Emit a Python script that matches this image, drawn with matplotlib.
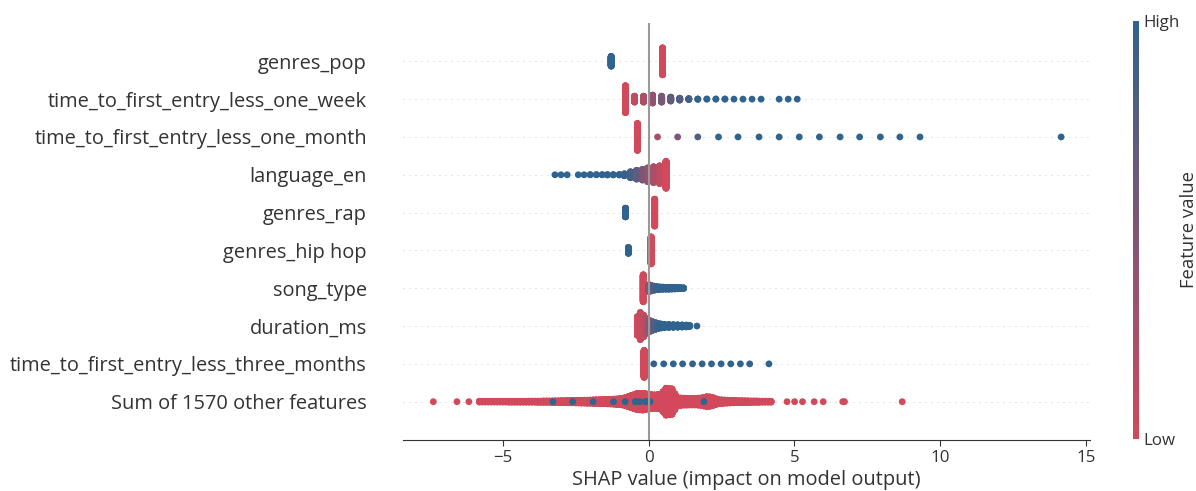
import numpy as np
import matplotlib
matplotlib.use('Agg')
import matplotlib.pyplot as plt
from matplotlib.colors import LinearSegmentedColormap
from matplotlib.cm import ScalarMappable

plt.rcParams['font.family'] = ['Open Sans', 'DejaVu Sans']

# feature names, top row first
features = [
    'genres_pop',
    'time_to_first_entry_less_one_week',
    'time_to_first_entry_less_one_month',
    'language_en',
    'genres_rap',
    'genres_hip hop',
    'song_type',
    'duration_ms',
    'time_to_first_entry_less_three_months',
    'Sum of 1570 other features',
]

# per feature: shap value of each group, number of samples in it, scaled feature value (0 low, 1 high)
pop_shap = [-1.28, 0.48]
pop_n = [74, 201]
pop_fv = [1.0, 0.0]

week_shap = [-0.79, -0.48, -0.17, 0.14, 0.45, 0.76, 1.07, 1.38, 1.69, 2.0, 2.31, 2.62,
             2.93, 3.24, 3.55, 3.86, 4.48, 4.79, 5.1]
week_n = [201, 45, 45, 60, 45, 30, 15, 8, 3, 2, 2, 2, 1, 1, 1, 1, 1, 1, 1]
week_fv = [0.0, 0.1, 0.25, 0.4, 0.55, 0.7, 0.8, 0.9, 1.0, 1.0, 1.0, 1.0, 1.0, 1.0,
           1.0, 1.0, 1.0, 1.0, 1.0]

month_shap = [-0.38, 0.31, 1.0, 1.69, 2.4, 3.07, 3.79, 4.48, 5.17, 5.86, 6.57, 7.24,
              7.95, 8.62, 9.31, 14.15]
month_n = [201, 1, 1, 1, 1, 1, 1, 1, 1, 1, 1, 1, 1, 1, 1, 1]
month_fv = [0.0, 0.25, 0.55, 0.8, 1.0, 1.0, 1.0, 1.0, 1.0, 1.0, 1.0, 1.0, 1.0, 1.0,
            1.0, 1.0]

lang_shap = [-3.21, -3.0, -2.79, -2.41, -2.21, -2.0, -1.79, -1.59, -1.41, -1.21, -1.0,
             -0.83, -0.62, -0.41, -0.21, -0.03, 0.17, 0.38, 0.6]
lang_n = [1, 1, 1, 1, 1, 2, 2, 2, 3, 3, 4, 15, 45, 66, 80, 103, 118, 132, 201]
lang_fv = [1.0, 1.0, 1.0, 1.0, 1.0, 1.0, 1.0, 1.0, 1.0, 1.0, 1.0, 0.95, 0.85, 0.7,
           0.55, 0.4, 0.25, 0.12, 0.0]

rap_shap = [-0.79, 0.21]
rap_n = [66, 201]
rap_fv = [1.0, 0.0]

hiphop_shap = [-0.69, 0.09]
hiphop_n = [45, 201]
hiphop_fv = [1.0, 0.0]

song_shap = [-0.18, 0.02, 0.1, 0.2, 0.3, 0.4, 0.5, 0.6, 0.7, 0.8, 0.9, 1.0, 1.1, 1.2]
song_n = [201, 52, 40, 30, 22, 18, 16, 15, 15, 14, 12, 10, 8, 6]
song_fv = [0.0, 0.5, 0.7, 0.85, 0.95, 1.0, 1.0, 1.0, 1.0, 1.0, 1.0, 1.0, 1.0, 1.0]

dur_shap = [-0.38, -0.28, -0.17, -0.07, 0.03, 0.13, 0.23, 0.33, 0.43, 0.55, 0.7, 0.85,
            1.0, 1.15, 1.3, 1.41, 1.66]
dur_n = [140, 201, 160, 110, 85, 66, 52, 38, 30, 24, 22, 20, 18, 16, 14, 8, 1]
dur_fv = [0.0, 0.05, 0.1, 0.25, 0.45, 0.65, 0.8, 0.9, 1.0, 1.0, 1.0, 1.0, 1.0, 1.0,
          1.0, 1.0, 1.0]

three_shap = [-0.15, 0.18, 0.52, 0.85, 1.17, 1.51, 1.84, 2.16, 2.49, 2.82, 3.15, 3.47, 4.13]
three_n = [201, 1, 1, 1, 1, 1, 1, 1, 1, 1, 1, 1, 1]
three_fv = [0.0, 1.0, 1.0, 1.0, 1.0, 1.0, 1.0, 1.0, 1.0, 1.0, 1.0, 1.0, 1.0]

# remaining features: low-valued samples (red)
other_shap = [
    -7.38, -6.57, -6.16,
    -5.8, -5.7, -5.6, -5.5, -5.4, -5.3, -5.2, -5.1, -5.0, -4.9,
    -4.8, -4.7, -4.6, -4.5, -4.4, -4.3, -4.2, -4.1, -4.0, -3.9,
    -3.8, -3.7, -3.6, -3.5, -3.4, -3.3, -3.2, -3.1, -3.0, -2.9,
    -2.8, -2.7, -2.6, -2.5, -2.4, -2.3, -2.2, -2.1, -2.0, -1.9,
    -1.8, -1.7, -1.6, -1.5, -1.4, -1.3, -1.2, -1.1, -1.0, -0.9,
    -0.8, -0.7, -0.6, -0.5, -0.4, -0.3, -0.2, -0.1, 0.0, 0.1,
    0.2, 0.3, 0.4, 0.5, 0.6, 0.7, 0.8, 0.9, 1.0, 1.1,
    1.2, 1.3, 1.4, 1.5, 1.6, 1.7, 1.8, 1.9, 2.0, 2.1,
    2.2, 2.3, 2.4, 2.5, 2.6, 2.7, 2.8, 2.9, 3.0, 3.1,
    3.2, 3.3, 3.4, 3.5, 3.6, 3.7, 3.8, 3.9, 4.0, 4.1, 4.2,
    4.75, 5.01, 5.28, 5.68, 5.99, 6.66, 6.72, 8.7,
]
other_n = [
    1, 1, 1,
    6, 6, 6, 6, 6, 6, 6, 6, 6, 6,
    7, 7, 7, 7, 7, 7, 7, 8, 8, 8,
    9, 9, 10, 10, 10, 11, 12, 13, 14, 15,
    16, 17, 18, 19, 20, 21, 22, 23, 24, 26,
    28, 29, 30, 32, 34, 36, 38, 41, 44, 50,
    60, 75, 90, 105, 120, 122, 125, 118, 110, 105,
    100, 104, 110, 150, 201, 195, 190, 120, 60, 55,
    52, 51, 50, 50, 50, 52, 55, 65, 74, 70,
    60, 45, 30, 27, 24, 22, 20, 18, 16, 15,
    14, 13, 12, 11, 10, 10, 9, 8, 8, 7, 7,
    1, 1, 1, 1, 1, 1, 1, 1,
]
# remaining features: high-valued samples (blue), drawn on top
other_hi_shap = [-3.28, -2.6, -1.9, -1.2, -0.8, -0.45, -0.3, -0.1, -0.02, 0.05, 1.9]
other_hi_n = [1, 1, 1, 1, 1, 2, 1, 2, 2, 1, 1]

other_shap = other_shap + other_hi_shap
other_n = other_n + other_hi_n
other_fv = [0.0] * (len(other_shap) - len(other_hi_shap)) + [1.0] * len(other_hi_shap)

rows = [
    (pop_shap, pop_n, pop_fv),
    (week_shap, week_n, week_fv),
    (month_shap, month_n, month_fv),
    (lang_shap, lang_n, lang_fv),
    (rap_shap, rap_n, rap_fv),
    (hiphop_shap, hiphop_n, hiphop_fv),
    (song_shap, song_n, song_fv),
    (dur_shap, dur_n, dur_fv),
    (three_shap, three_n, three_fv),
    (other_shap, other_n, other_fv),
]

cmap = LinearSegmentedColormap.from_list('low_high', ['#d1495b', '#30638e'])
text_color = '#333333'

fig = plt.figure(figsize=(11.96, 4.91), dpi=100)
ax = fig.add_axes([403 / 1196, 51.5 / 491, 687 / 1196, 416 / 491])

n_rows = len(features)
for i, (shap_vals, counts, fvals) in enumerate(rows):
    pos = n_rows - 1 - i
    ax.axhline(pos, color='#cccccc', lw=0.72, dashes=(1, 5), zorder=-1)

    xs, ys, cs = [], [], []
    for x, n, f in zip(shap_vals, counts, fvals):
        k = np.arange(n)
        # stack samples of the same value: 0, +1, -1, +2, -2, ...
        ys.append(np.ceil(k / 2) * ((k % 2) * 2 - 1))
        xs.append(np.full(n, x))
        cs.append(np.full(n, f))
    xs = np.concatenate(xs)
    ys = np.concatenate(ys)
    cs = np.concatenate(cs)
    ys = ys * (0.9 * 0.4 / (np.max(ys) + 1))
    ax.scatter(xs, pos + ys, c=cs, cmap=cmap, vmin=0, vmax=1, s=24,
               linewidth=0, zorder=3)

ax.axvline(0, color='#999999', lw=1.5, zorder=4)

ax.set_xlim(-8.42, 15.14)
ax.set_ylim(-1, n_rows)
ax.set_yticks(range(n_rows))
ax.set_yticklabels(features[::-1], fontsize=14.4, color=text_color)
ax.tick_params(axis='y', length=0, pad=26)
ax.set_xticks([-5, 0, 5, 10, 15])
ax.tick_params(axis='x', labelsize=12.2, labelcolor=text_color, color=text_color,
               length=4, width=0.8)
ax.set_xlabel('SHAP value (impact on model output)', fontsize=14.4, color=text_color,
              labelpad=3)

for side in ['top', 'right', 'left']:
    ax.spines[side].set_visible(False)
ax.spines['bottom'].set_color(text_color)
ax.spines['bottom'].set_linewidth(0.8)

# colour bar for the feature value
cax = fig.add_axes([1133 / 1196, 52 / 491, 6 / 1196, 418 / 491])
sm = ScalarMappable(cmap=cmap)
sm.set_array([0, 1])
cb = fig.colorbar(sm, cax=cax, ticks=[0, 1])
cb.set_ticklabels(['Low', 'High'])
cb.ax.tick_params(labelsize=12.2, length=0, labelcolor=text_color)
cb.set_label('Feature value', size=13.3, labelpad=0, color=text_color)
cb.outline.set_visible(False)

fig.savefig('out.png', dpi=100)
